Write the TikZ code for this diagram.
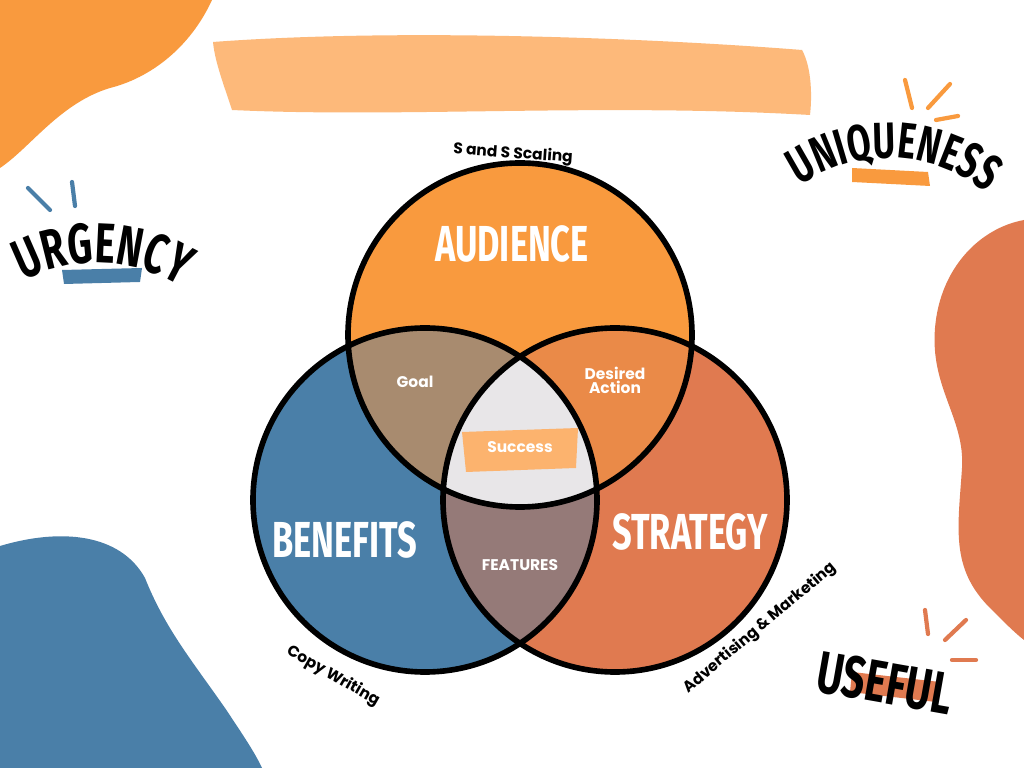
\documentclass[tikz,border=0pt]{standalone}
\usepackage{fontspec}
\usetikzlibrary{decorations.text}
\newfontfamily\hd[FakeStretch=0.68]{Fira Sans}
\newfontfamily\pp{Poppins}
\definecolor{aud}{HTML}{F99A3E}
\definecolor{ben}{HTML}{4A7FA8}
\definecolor{str}{HTML}{E07A50}
\definecolor{goal}{HTML}{A88B6F}
\definecolor{des}{HTML}{EA8A48}
\definecolor{fea}{HTML}{957A78}
\definecolor{mid}{HTML}{E8E6E8}
\definecolor{ban}{HTML}{FDB97A}
\begin{document}
\begin{tikzpicture}[x=0.025cm,y=0.025cm,
  ring/.style={draw=black,line width=4pt},
  big/.style={text=white,font=\hd\bfseries\fontsize{36}{40}\selectfont},
  small/.style={text=white,font=\pp\bfseries\fontsize{11}{12}\selectfont,align=center},
  side/.style={text=black,font=\pp\bfseries\fontsize{11}{12}\selectfont},
  tick/.style={line width=3pt,line cap=round}]
\useasboundingbox (0,0) rectangle (1024,768);
\fill[white] (0,0) rectangle (1024,768);
% blobs
\fill[aud] (0,768) -- (212,768) .. controls (190,720) and (150,690) .. (110,680) .. controls (60,665) and (30,620) .. (0,600) -- cycle;
\fill[ban] (213,726) .. controls (400,740) and (650,730) .. (802,718) .. controls (812,700) and (812,670) .. (810,653) .. controls (600,665) and (400,650) .. (232,658) .. controls (225,680) and (215,705) .. (213,726) -- cycle;
\fill[str] (1024,548) .. controls (980,540) and (940,500) .. (935,440) .. controls (930,380) and (965,350) .. (962,300) .. controls (958,240) and (950,200) .. (990,160) .. controls (1005,145) and (1015,135) .. (1024,128) -- cycle;
\fill[ben] (0,222) .. controls (60,240) and (120,235) .. (145,190) .. controls (165,140) and (190,110) .. (225,60) .. controls (245,30) and (255,15) .. (262,0) -- (0,0) -- cycle;
% circles
\coordinate (ca) at (520,433);
\coordinate (cb) at (425,268);
\coordinate (cs) at (615,268);
\fill[aud] (ca) circle (172);
\fill[ben] (cb) circle (172);
\fill[str] (cs) circle (172);
\begin{scope}\clip (ca) circle (172); \fill[goal] (cb) circle (172); \end{scope}
\begin{scope}\clip (ca) circle (172); \fill[des] (cs) circle (172); \end{scope}
\begin{scope}\clip (cb) circle (172); \fill[fea] (cs) circle (172); \end{scope}
\begin{scope}\clip (ca) circle (172); \clip (cb) circle (172); \fill[mid] (cs) circle (172); \end{scope}
\draw[ring] (ca) circle (172);
\draw[ring] (cb) circle (172);
\draw[ring] (cs) circle (172);
% success brush
\fill[ban!80!aud] (462,336) -- (578,340) -- (576,300) -- (466,296) -- cycle;
% labels
\node[big] (naud) at (512,524) {AUDIENCE};
\node[big] (nben) at (345,228) {BENEFITS};
\node[big] (nstr) at (690,236) {STRATEGY};
\node[small] (ngoal) at (415,386) {Goal};
\node[small] (ndes) at (615,388) {Desired\\[-2pt]Action};
\node[small] (nsuc) at (520,321) {Success};
\node[small] (nfea) at (520,203) {FEATURES};
\node[side,rotate=-4] (nsc) at (513,614) {S and S Scaling};
\node[side,rotate=-30] (ncw) at (333,92) {Copy Writing};
\node[side,rotate=40] (nam) at (760,140) {Advertising \& Marketing};
% URGENCY
\fill[ben] (62,498) -- (142,500) -- (140,486) -- (64,484) -- cycle;
\draw[ben,tick] (28,580) -- (50,558);
\draw[ben,tick] (72,586) -- (75,562);
\path[decorate,decoration={text along path,text align=center,text={|\hd\bfseries\fontsize{40}{40}\selectfont|URGENCY}}] (10,478) .. controls (60,515) and (140,515) .. (194,472);
% UNIQUENESS
\fill[aud] (852,600) -- (928,596) -- (930,582) -- (852,586) -- cycle;
\draw[aud,tick] (905,688) -- (912,660);
\draw[aud,tick] (928,660) -- (950,684);
\draw[aud,tick] (936,648) -- (958,652);
\path[decorate,decoration={text along path,text align=center,text={|\hd\bfseries\fontsize{36}{36}\selectfont|UNIQUENESS}}] (783,570) .. controls (850,625) and (935,625) .. (1003,562);
% USEFUL
\fill[str] (852,96) -- (940,86) -- (936,66) -- (850,76) -- cycle;
\draw[str,tick] (925,158) -- (928,134);
\draw[str,tick] (945,128) -- (966,148);
\draw[str,tick] (952,108) -- (976,108);
\node[text=black,font=\hd\bfseries\fontsize{42}{42}\selectfont,rotate=-10] (nuse) at (885,85) {USEFUL};
\end{tikzpicture}
\end{document}
